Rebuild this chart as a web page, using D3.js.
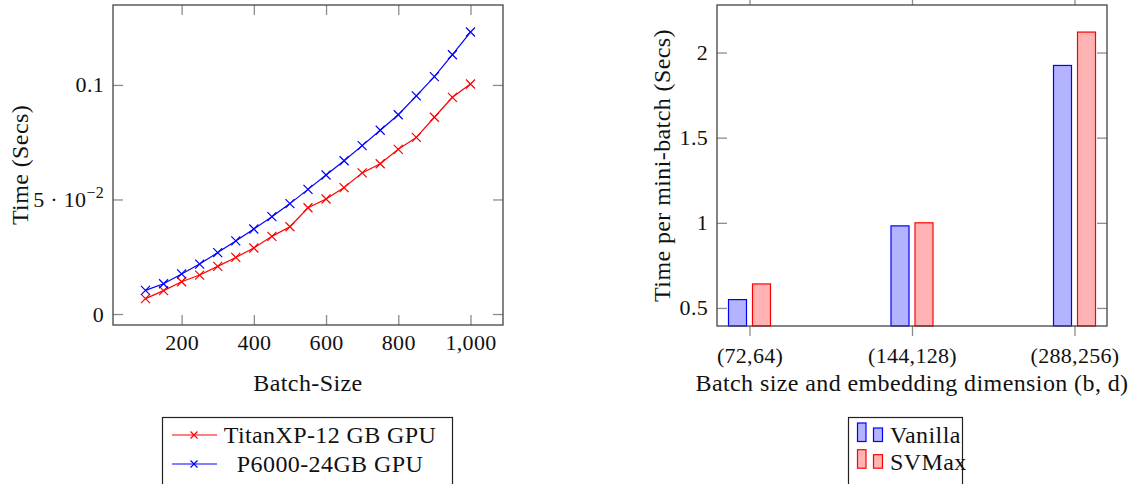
<!DOCTYPE html>
<html>
<head>
<meta charset="utf-8">
<script src="https://cdn.jsdelivr.net/npm/d3@7"></script>
<style>
  html, body { margin: 0; padding: 0; background: #fff; }
  svg { display: block; }
</style>
</head>
<body>
<svg id="chart" width="1133" height="484"></svg>
<script>
// Left chart: time vs batch size
const batchSizes = [100, 150, 200, 250, 300, 350, 400, 450, 500, 550, 600, 650, 700, 750, 800, 850, 900, 950, 1000];
const titanXP = [0.0067, 0.0102, 0.0141, 0.0170, 0.0208, 0.0247, 0.0288, 0.0339, 0.0381, 0.0464, 0.0502, 0.0552, 0.0616, 0.0656, 0.0719, 0.0771, 0.0859, 0.0946, 0.1004];
const p6000 = [0.0103, 0.0132, 0.0175, 0.0218, 0.0268, 0.0319, 0.0371, 0.0425, 0.0482, 0.0544, 0.0607, 0.0669, 0.0735, 0.0802, 0.0870, 0.0952, 0.1036, 0.1132, 0.1231];
const lineXTicks = [200, 400, 600, 800, 1000];
const lineYTicks = [0, 0.05, 0.1];
const lineSeries = [
    { name: 'TitanXP-12 GB GPU', values: titanXP, color: '#ff0000' },
    { name: 'P6000-24GB GPU', values: p6000, color: '#0000ff' }
];

// Right chart: time per mini-batch
const barGroups = ['(72,64)', '(144,128)', '(288,256)'];
const vanilla = [0.549, 0.982, 1.924];
const svmax = [0.641, 1.0, 2.12];
const barYTicks = [0.5, 1, 1.5, 2];
const barSeries = [
    { name: 'Vanilla', values: vanilla, stroke: '#0000ff', fill: '#b3b3ff' },
    { name: 'SVMax', values: svmax, stroke: '#ff0000', fill: '#ffb3b3' }
];

const FONT = "'Liberation Serif', 'DejaVu Serif', serif";
const svg = d3.select('#chart').attr('font-family', FONT);
const tickFont = 22;
const labelFont = 24;
const spacing = 0.4;
const frameColor = '#444';
const tickColor = '#8c8c8c';

function styleAxis(g) {
    g.attr('font-family', FONT);
    g.select('.domain').remove();
    g.selectAll('.tick line').attr('stroke', tickColor).attr('stroke-width', 1.3);
    g.selectAll('.tick text')
        .attr('font-family', FONT)
        .attr('font-size', tickFont)
        .attr('letter-spacing', 0.3)
        .attr('fill', '#111');
}

function label(sel) {
    return sel.attr('font-size', labelFont).attr('letter-spacing', spacing).attr('fill', '#111');
}

// ---------- Left line chart ----------
const L = { left: 113, right: 503, top: 5, bottom: 325 };
const x = d3.scaleLinear().domain([10, 1090]).range([L.left, L.right]);
const y = d3.scaleLinear().domain([-0.0048, 0.1349]).range([L.bottom, L.top]);

svg.append('g').attr('transform', `translate(0,${L.bottom})`)
    .call(d3.axisBottom(x).tickValues(lineXTicks).tickSize(-10).tickSizeOuter(0).tickPadding(9).tickFormat(d3.format(',')))
    .call(styleAxis);
svg.append('g').attr('transform', `translate(0,${L.top})`)
    .call(d3.axisTop(x).tickValues(lineXTicks).tickSize(-10).tickSizeOuter(0).tickFormat(''))
    .call(styleAxis);
const leftAxis = svg.append('g').attr('transform', `translate(${L.left},0)`)
    .call(d3.axisLeft(y).tickValues(lineYTicks).tickSize(-10).tickSizeOuter(0).tickPadding(9).tickFormat(d => d === 0 ? '0' : d3.format('.1f')(d)))
    .call(styleAxis);
svg.append('g').attr('transform', `translate(${L.right},0)`)
    .call(d3.axisRight(y).tickValues(lineYTicks).tickSize(-10).tickSizeOuter(0).tickFormat(''))
    .call(styleAxis);

// 5 · 10^-2 label
leftAxis.selectAll('.tick text').filter(d => d === 0.05).each(function () {
    const t = d3.select(this).text('');
    t.append('tspan').text('5 · 10');
    t.append('tspan').attr('font-size', 16).attr('dy', '-0.55em').text('−2');
});

svg.append('rect')
    .attr('x', L.left).attr('y', L.top)
    .attr('width', L.right - L.left).attr('height', L.bottom - L.top)
    .attr('fill', 'none').attr('stroke', frameColor).attr('stroke-width', 1.3);

const line = d3.line().x((d, i) => x(batchSizes[i])).y(d => y(d));
const crossSize = 4.5;

lineSeries.forEach(s => {
    svg.append('path')
        .datum(s.values)
        .attr('fill', 'none')
        .attr('stroke', s.color)
        .attr('stroke-width', 1.2)
        .attr('d', line);
    svg.append('g').selectAll('path')
        .data(s.values)
        .join('path')
        .attr('transform', (d, i) => `translate(${x(batchSizes[i])},${y(d)})`)
        .attr('d', `M${-crossSize},${-crossSize}L${crossSize},${crossSize}M${-crossSize},${crossSize}L${crossSize},${-crossSize}`)
        .attr('stroke', s.color)
        .attr('stroke-width', 1.2);
});

svg.append('text')
    .attr('x', (L.left + L.right) / 2).attr('y', 391)
    .attr('text-anchor', 'middle')
    .call(label)
    .text('Batch-Size');
svg.append('text')
    .attr('transform', `translate(20,${(L.top + L.bottom) / 2}) rotate(-90)`)
    .attr('text-anchor', 'middle').attr('dy', '0.35em')
    .call(label)
    .text('Time (Secs)');

// left legend
const lg = svg.append('g');
lg.append('rect').attr('x', 162.5).attr('y', 417.5).attr('width', 290).attr('height', 80)
    .attr('fill', '#fff').attr('stroke', '#222').attr('stroke-width', 1.2);
lineSeries.forEach((s, i) => {
    const cy = 435 + i * 29;
    lg.append('line').attr('x1', 172).attr('x2', 217).attr('y1', cy).attr('y2', cy)
        .attr('stroke', s.color).attr('stroke-width', 1.2);
    lg.append('path')
        .attr('transform', `translate(194,${cy})`)
        .attr('d', `M-3.5,-3.5L3.5,3.5M-3.5,3.5L3.5,-3.5`)
        .attr('stroke', s.color).attr('stroke-width', 1.2);
    lg.append('text').attr('x', 330).attr('y', cy).attr('dy', '0.35em')
        .attr('text-anchor', 'middle')
        .call(label)
        .text(s.name);
});

// ---------- Right bar chart ----------
const R = { left: 717, right: 1107, top: 5, bottom: 326 };
const xb = d3.scaleLinear().domain([-0.2, 2.2]).range([R.left, R.right]);
const yb = d3.scaleLinear().domain([0.394, 2.279]).range([R.bottom, R.top]);
const groupIdx = barGroups.map((d, i) => i);

svg.append('g').attr('transform', `translate(0,${R.bottom})`)
    .call(d3.axisBottom(xb).tickValues(groupIdx).tickSize(10).tickSizeOuter(0).tickPadding(11).tickFormat(i => barGroups[i]))
    .call(styleAxis);
svg.append('g').attr('transform', `translate(0,${R.top})`)
    .call(d3.axisTop(xb).tickValues(groupIdx).tickSize(10).tickSizeOuter(0).tickFormat(''))
    .call(styleAxis);
svg.append('g').attr('transform', `translate(${R.left},0)`)
    .call(d3.axisLeft(yb).tickValues(barYTicks).tickSize(-10).tickSizeOuter(0).tickPadding(9).tickFormat(d3.format('')))
    .call(styleAxis);
svg.append('g').attr('transform', `translate(${R.right},0)`)
    .call(d3.axisRight(yb).tickValues(barYTicks).tickSize(-10).tickSizeOuter(0).tickFormat(''))
    .call(styleAxis);

const barWidth = 18;
const barGap = 6;
barSeries.forEach((s, si) => {
    const shift = (si - 0.5) * (barWidth + barGap);
    svg.append('g').selectAll('rect')
        .data(s.values)
        .join('rect')
        .attr('x', (d, i) => xb(i) + shift - barWidth / 2)
        .attr('y', d => yb(d))
        .attr('width', barWidth)
        .attr('height', d => yb.range()[0] - yb(d))
        .attr('fill', s.fill)
        .attr('stroke', s.stroke)
        .attr('stroke-width', 1.2);
});

svg.append('rect')
    .attr('x', R.left).attr('y', R.top)
    .attr('width', R.right - R.left).attr('height', R.bottom - R.top)
    .attr('fill', 'none').attr('stroke', frameColor).attr('stroke-width', 1.3);

svg.append('text')
    .attr('x', (R.left + R.right) / 2).attr('y', 391)
    .attr('text-anchor', 'middle')
    .call(label)
    .text('Batch size and embedding dimension (b, d)');
svg.append('text')
    .attr('transform', `translate(662,${(R.top + R.bottom) / 2}) rotate(-90)`)
    .attr('text-anchor', 'middle').attr('dy', '0.35em')
    .call(label)
    .text('Time per mini-batch (Secs)');

// right legend
const rg = svg.append('g');
rg.append('rect').attr('x', 848.5).attr('y', 417.5).attr('width', 114).attr('height', 80)
    .attr('fill', '#fff').attr('stroke', '#222').attr('stroke-width', 1.2);
barSeries.forEach((s, i) => {
    const base = 441.5 + i * 26.7;
    rg.append('rect').attr('x', 857.5).attr('y', base - 18.5).attr('width', 8.5).attr('height', 18.5)
        .attr('fill', s.fill).attr('stroke', s.stroke).attr('stroke-width', 1.2);
    rg.append('rect').attr('x', 873.5).attr('y', base - 13.5).attr('width', 9).attr('height', 13.5)
        .attr('fill', s.fill).attr('stroke', s.stroke).attr('stroke-width', 1.2);
    rg.append('text').attr('x', 890).attr('y', base - 6.5).attr('dy', '0.35em')
        .call(label)
        .text(s.name);
});
</script>
</body>
</html>
